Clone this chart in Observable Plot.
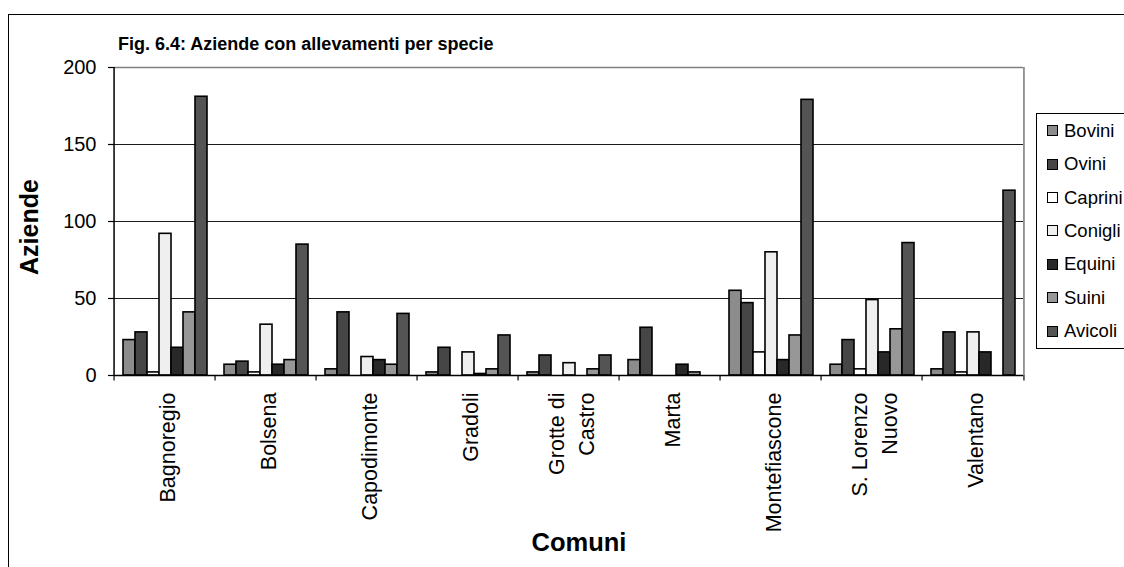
<!DOCTYPE html>
<html><head><meta charset="utf-8">
<script src="https://cdn.jsdelivr.net/npm/d3@7"></script>
<script src="https://cdn.jsdelivr.net/npm/@observablehq/plot@0.6"></script>
<style>
html,body{margin:0;padding:0;background:#fff;}
body{font-family:"Liberation Sans",Arial,sans-serif;color:#000;}
#wrap{position:relative;width:1124px;height:567px;overflow:hidden;}
#border{position:absolute;left:8px;top:14px;width:1300px;height:700px;border:1.5px solid #000;box-sizing:border-box;}
#chart{position:absolute;left:0;top:0;}
#title{position:absolute;left:118px;top:35px;font-weight:bold;font-size:18px;line-height:1;white-space:nowrap;}
#ytitle{position:absolute;left:29px;top:227px;font-weight:bold;font-size:25px;line-height:1;white-space:nowrap;transform:translate(-50%,-50%) rotate(-90deg);}
#xtitle{position:absolute;left:579px;top:543px;font-weight:bold;font-size:25.5px;line-height:1;white-space:nowrap;transform:translate(-50%,-50%);}
#legend{position:absolute;left:1036px;top:113px;width:120px;height:236px;border:1px solid #000;box-sizing:border-box;background:#fff;display:flex;flex-direction:column;}
#legend .item{flex:1;display:flex;align-items:center;padding-left:10px;font-size:18.5px;}
#legend .sw{width:11px;height:11px;border:1.3px solid #000;box-sizing:border-box;margin-right:6px;flex:none;}
</style>
</head><body>
<div id="wrap">
  <div id="border"></div>
  <div id="chart"></div>
  <div id="title">Fig. 6.4: Aziende con allevamenti per specie</div>
  <div id="ytitle">Aziende</div>
  <div id="xtitle">Comuni</div>
  <div id="legend"></div>
</div>
<script>
const comuni = ["Bagnoregio","Bolsena","Capodimonte","Gradoli","Grotte di\nCastro","Marta","Montefiascone","S. Lorenzo\nNuovo","Valentano"];
const specie = ["Bovini","Ovini","Caprini","Conigli","Equini","Suini","Avicoli"];
const bovini  = [23, 7, 4, 2, 2, 10, 55, 7, 4];
const ovini   = [28, 9, 41, 18, 13, 31, 47, 23, 28];
const caprini = [2, 2, 0, 0, 0, 0, 15, 4, 2];
const conigli = [92, 33, 12, 15, 8, 0, 80, 49, 28];
const equini  = [18, 7, 10, 1, 0, 7, 10, 15, 15];
const suini   = [41, 10, 7, 4, 4, 2, 26, 30, 0];
const avicoli = [181, 85, 40, 26, 13, 0, 179, 86, 120];
const yTicks = [0, 50, 100, 150, 200];
const colori = ["#8c8c8c","#464646","#ffffff","#efefef","#282828","#979797","#545454"];

const series = [bovini, ovini, caprini, conigli, equini, suini, avicoli];
const data = [];
comuni.forEach((c, i) => specie.forEach((s, j) => {
  const v = series[j][i];
  if (v > 0) data.push({comune: c, specie: s, value: v});
}));

const W = 1124, H = 567, mL = 110, mR = 97, mT = 67, mB = 192;
const fw = (W - mL - mR) / comuni.length;
const first = comuni[0], last = comuni[comuni.length - 1];

const chart = Plot.plot({
  width: W, height: H,
  marginLeft: mL, marginRight: mR, marginTop: mT, marginBottom: mB,
  style: {fontFamily: "'Liberation Sans', Arial, sans-serif", background: "transparent", color: "#000", overflow: "visible"},
  fx: {domain: comuni, padding: 0, label: null, axis: null},
  x: {domain: specie, paddingInner: 0, paddingOuter: 0.6, axis: null},
  y: {domain: [0, 200], label: null, axis: null},
  color: {domain: specie, range: colori},
  marks: [
    Plot.ruleY([50, 100, 150], {stroke: "#1a1a1a", strokeWidth: 1.2}),
    Plot.ruleY([200], {stroke: "#808080", strokeWidth: 1.6}),
    Plot.barY(data, {fx: "comune", x: "specie", y: "value", fill: "specie", stroke: "#000", strokeWidth: 1.6}),
    Plot.ruleY([0], {stroke: "#000", strokeWidth: 1.5}),
    Plot.ruleX([first], {fx: d => d, x: null, y1: 0, y2: 200, dx: -fw / 2, stroke: "#000", strokeWidth: 1.5}),
    Plot.ruleX([last], {fx: d => d, x: null, y1: 0, y2: 200, dx: fw / 2, stroke: "#808080", strokeWidth: 1.6}),
    Plot.ruleX(comuni, {fx: d => d, x: null, y1: 0, y2: -3.5, dx: -fw / 2, stroke: "#000", strokeWidth: 1.2}),
    Plot.ruleX([last], {fx: d => d, x: null, y1: 0, y2: -3.5, dx: fw / 2, stroke: "#000", strokeWidth: 1.2}),
    Plot.axisY({ticks: yTicks, tickSize: 6, tickPadding: 12, fontSize: 20, label: null, strokeWidth: 1.2}),
    Plot.axisFx({anchor: "bottom", tickRotate: -90, textAnchor: "end", lineAnchor: "middle", tickSize: 0, tickPadding: 17, fontSize: 21.5, lineHeight: 1.4, label: null})
  ]
});
document.getElementById("chart").appendChild(chart);

const leg = document.getElementById("legend");
specie.forEach((s, j) => {
  const it = document.createElement("div");
  it.className = "item";
  const sw = document.createElement("span");
  sw.className = "sw";
  sw.style.background = colori[j];
  const tx = document.createElement("span");
  tx.textContent = s;
  it.appendChild(sw); it.appendChild(tx);
  leg.appendChild(it);
});
</script>
</body></html>
